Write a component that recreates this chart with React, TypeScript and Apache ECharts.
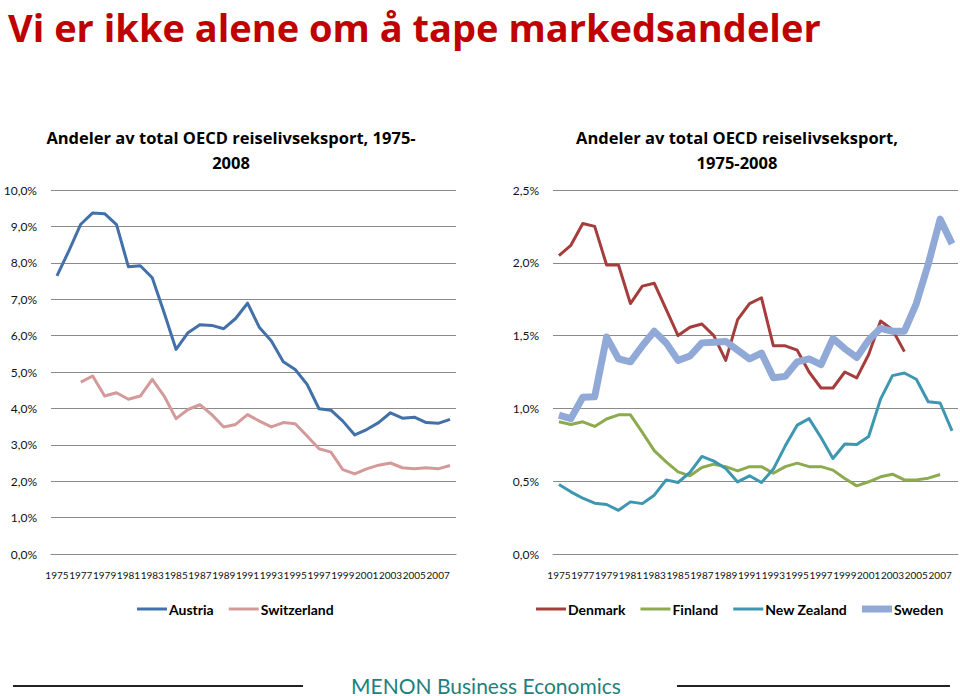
import React, { useEffect, useRef } from "react";
import * as echarts from "echarts";

const years: string[] = [];
for (let y = 1975; y <= 2008; y++) years.push(String(y));

const austria = [7.64, 8.33, 9.06, 9.37, 9.35, 9.05, 7.89, 7.92, 7.59, 6.63, 5.62, 6.08, 6.3, 6.28, 6.19, 6.47, 6.89, 6.22, 5.85, 5.28, 5.07, 4.66, 3.99, 3.95, 3.65, 3.27, 3.42, 3.61, 3.88, 3.73, 3.76, 3.61, 3.59, 3.7];
const switzerland = [null, null, 4.72, 4.89, 4.34, 4.43, 4.25, 4.34, 4.8, 4.34, 3.72, 3.97, 4.1, 3.83, 3.49, 3.56, 3.83, 3.65, 3.49, 3.61, 3.58, 3.24, 2.89, 2.8, 2.32, 2.2, 2.34, 2.44, 2.5, 2.37, 2.34, 2.37, 2.34, 2.43];

const denmark = [2.05, 2.12, 2.27, 2.25, 1.985, 1.985, 1.72, 1.84, 1.86, 1.68, 1.5, 1.557, 1.58, 1.5, 1.33, 1.61, 1.72, 1.76, 1.43, 1.43, 1.4, 1.25, 1.14, 1.14, 1.25, 1.21, 1.37, 1.6, 1.54, 1.39, null, null, null, null];
const finland = [0.908, 0.89, 0.908, 0.876, 0.927, 0.956, 0.956, 0.835, 0.71, 0.633, 0.564, 0.537, 0.594, 0.617, 0.6, 0.571, 0.6, 0.6, 0.555, 0.6, 0.624, 0.6, 0.6, 0.576, 0.518, 0.468, 0.496, 0.53, 0.548, 0.509, 0.509, 0.521, 0.546, null];
const newZealand = [0.477, 0.427, 0.383, 0.349, 0.34, 0.3, 0.358, 0.346, 0.404, 0.509, 0.491, 0.56, 0.67, 0.638, 0.587, 0.495, 0.537, 0.491, 0.583, 0.743, 0.885, 0.93, 0.8, 0.656, 0.755, 0.752, 0.807, 1.064, 1.225, 1.243, 1.2, 1.046, 1.037, 0.846];
const sweden = [0.954, 0.93, 1.076, 1.08, 1.49, 1.34, 1.32, 1.43, 1.53, 1.45, 1.33, 1.36, 1.45, 1.455, 1.46, 1.4, 1.34, 1.38, 1.21, 1.22, 1.32, 1.34, 1.3, 1.48, 1.41, 1.35, 1.47, 1.55, 1.53, 1.53, 1.72, 1.99, 2.3, 2.13];

const FONT = "Lato, 'Open Sans', sans-serif";
const HEAD_FONT = "'Open Sans', Lato, sans-serif";
const GRID_COLOR = "#8a8a8a";

const THIN_ICON = "path://M0,0H30V3H0Z";
const THICK_ICON = "path://M0,0H30V7H0Z";

const fmt = (v: number) => v.toFixed(1).replace(".", ",") + "%";

export default function App() {
  const ref = useRef<HTMLDivElement>(null);
  useEffect(() => {
    if (!ref.current) return;
    const chart = echarts.init(ref.current, undefined, { renderer: "svg" });

    const xAxisBase = (gridIndex: number) => ({
      type: "category" as const,
      gridIndex,
      data: years,
      boundaryGap: true,
      axisLine: { show: true, lineStyle: { color: GRID_COLOR, width: 1 } },
      axisTick: { show: false },
      axisLabel: { interval: 1, fontSize: 10, color: "#111", fontFamily: FONT, margin: 16 },
    });
    const yAxisBase = (gridIndex: number, max: number, interval: number) => ({
      type: "value" as const,
      gridIndex,
      min: 0,
      max,
      interval,
      axisLine: { show: false },
      axisTick: { show: false },
      axisLabel: { formatter: fmt, fontSize: 12, color: "#111", fontFamily: FONT, margin: 14 },
      splitLine: { show: true, lineStyle: { color: GRID_COLOR, width: 1 } },
    });
    const line = (name: string, data: (number | null)[], color: string, idx: number, width = 3) => ({
      name,
      type: "line" as const,
      xAxisIndex: idx,
      yAxisIndex: idx,
      data,
      symbol: "none",
      showSymbol: false,
      connectNulls: false,
      lineStyle: { color, width, join: "round" as const },
      itemStyle: { color },
    });
    const legendText = { fontSize: 14, fontWeight: "bold" as const, color: "#000", fontFamily: FONT, padding: [0, 0, 0, -3] };

    chart.setOption({
      animation: false,
      backgroundColor: "#ffffff",
      grid: [
        { left: 51, right: 504, top: 190, bottom: 142 },
        { left: 553, right: 2, top: 190, bottom: 142 },
      ],
      xAxis: [xAxisBase(0), xAxisBase(1)],
      yAxis: [yAxisBase(0, 10, 1), yAxisBase(1, 2.5, 0.5)],
      legend: [
        {
          data: [
            { name: "Austria", icon: THIN_ICON },
            { name: "Switzerland", icon: THIN_ICON },
          ],
          left: 132,
          top: 597,
          width: 300,
          itemWidth: 30,
          itemHeight: 14,
          itemGap: 15,
          symbolKeepAspect: true,
          textStyle: legendText,
        },
        {
          data: [
            { name: "Denmark", icon: THIN_ICON },
            { name: "Finland", icon: THIN_ICON },
            { name: "New Zealand", icon: THIN_ICON },
            { name: "Sweden", icon: THICK_ICON },
          ],
          left: 531,
          top: 597,
          width: 425,
          itemWidth: 30,
          itemHeight: 14,
          itemGap: 15,
          symbolKeepAspect: true,
          textStyle: legendText,
        },
      ],
      series: [
        line("Austria", austria, "#4270A8", 0),
        line("Switzerland", switzerland, "#D49A9A", 0),
        line("Denmark", denmark, "#A53D3D", 1),
        line("Finland", finland, "#8DAB4E", 1),
        line("New Zealand", newZealand, "#3D97B1", 1),
        line("Sweden", sweden, "#91A9D6", 1, 7),
      ],
      graphic: [
        {
          type: "text",
          x: 8,
          y: 26.5,
          style: {
            text: "Vi er ikke alene om å tape markedsandeler",
            font: `bold 38px ${HEAD_FONT}`,
            fill: "#C00000",
            textAlign: "left",
            textVerticalAlign: "middle",
            lineHeight: 34,
          },
        },
        {
          type: "text",
          x: 231,
          y: 137,
          style: { text: "Andeler av total OECD reiselivseksport, 1975-", font: `bold 16.5px ${HEAD_FONT}`, fill: "#000", textAlign: "center", textVerticalAlign: "middle" },
        },
        {
          type: "text",
          x: 231,
          y: 162,
          style: { text: "2008", font: `bold 16.5px ${HEAD_FONT}`, fill: "#000", textAlign: "center", textVerticalAlign: "middle" },
        },
        {
          type: "text",
          x: 737,
          y: 137,
          style: { text: "Andeler av total OECD reiselivseksport,", font: `bold 16.5px ${HEAD_FONT}`, fill: "#000", textAlign: "center", textVerticalAlign: "middle" },
        },
        {
          type: "text",
          x: 737,
          y: 162,
          style: { text: "1975-2008", font: `bold 16.5px ${HEAD_FONT}`, fill: "#000", textAlign: "center", textVerticalAlign: "middle" },
        },
        {
          type: "line",
          shape: { x1: 13, y1: 686, x2: 303, y2: 686 },
          style: { stroke: "#222", lineWidth: 2 },
        },
        {
          type: "line",
          shape: { x1: 677, y1: 686, x2: 950, y2: 686 },
          style: { stroke: "#222", lineWidth: 2 },
        },
        {
          type: "text",
          x: 486,
          y: 685,
          style: { text: "MENON Business Economics", font: `21px ${FONT}`, fill: "#1F7F7C", textAlign: "center", textVerticalAlign: "middle", lineHeight: 20 },
        },
      ],
    });
    return () => chart.dispose();
  }, []);
  return <div ref={ref} style={{ position: "absolute", left: 0, top: 0, width: 960, height: 696 }} />;
}
